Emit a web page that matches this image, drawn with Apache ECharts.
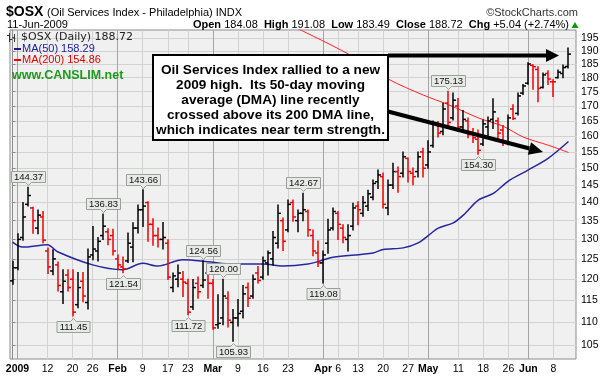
<!DOCTYPE html>
<html><head><meta charset="utf-8">
<script src="https://cdn.jsdelivr.net/npm/echarts@6/dist/echarts.min.js"></script>
<style>html,body{margin:0;padding:0;background:#fff}#c{width:603px;height:379px}</style>
</head><body><div id="c"></div>
<script>
// ---------- DATA ----------
const dates = [
 '2008-12-31',
 '2009-01-02','2009-01-05','2009-01-06','2009-01-07','2009-01-08','2009-01-09','2009-01-12','2009-01-13','2009-01-14','2009-01-15','2009-01-16','2009-01-20','2009-01-21','2009-01-22','2009-01-23','2009-01-26','2009-01-27','2009-01-28','2009-01-29','2009-01-30',
 '2009-02-02','2009-02-03','2009-02-04','2009-02-05','2009-02-06','2009-02-09','2009-02-10','2009-02-11','2009-02-12','2009-02-13','2009-02-17','2009-02-18','2009-02-19','2009-02-20','2009-02-23','2009-02-24','2009-02-25','2009-02-26','2009-02-27',
 '2009-03-02','2009-03-03','2009-03-04','2009-03-05','2009-03-06','2009-03-09','2009-03-10','2009-03-11','2009-03-12','2009-03-13','2009-03-16','2009-03-17','2009-03-18','2009-03-19','2009-03-20','2009-03-23','2009-03-24','2009-03-25','2009-03-26','2009-03-27','2009-03-30','2009-03-31',
 '2009-04-01','2009-04-02','2009-04-03','2009-04-06','2009-04-07','2009-04-08','2009-04-09','2009-04-13','2009-04-14','2009-04-15','2009-04-16','2009-04-17','2009-04-20','2009-04-21','2009-04-22','2009-04-23','2009-04-24','2009-04-27','2009-04-28','2009-04-29','2009-04-30',
 '2009-05-01','2009-05-04','2009-05-05','2009-05-06','2009-05-07','2009-05-08','2009-05-11','2009-05-12','2009-05-13','2009-05-14','2009-05-15','2009-05-18','2009-05-19','2009-05-20','2009-05-21','2009-05-22','2009-05-26','2009-05-27','2009-05-28','2009-05-29',
 '2009-06-01','2009-06-02','2009-06-03','2009-06-04','2009-06-05','2009-06-08','2009-06-09','2009-06-10','2009-06-11'
];
const open = [
 119.6,
 122.8,130.5,139.5,138.5,133.0,136.0,127.0,122.0,123.5,117.0,121.0,120.0,114.0,119.5,114.5,126.0,127.0,131.0,132.0,131.0,
 125.0,123.0,124.5,128.0,133.0,138.0,140.0,134.0,131.0,130.0,129.0,118.0,120.0,120.0,119.0,113.5,119.0,118.5,121.5,
 119.0,109.5,111.0,115.5,110.0,111.0,112.5,118.0,116.0,121.5,120.5,124.0,125.0,129.0,135.0,132.5,140.0,135.0,137.0,137.5,131.0,126.5,
 124.0,129.0,133.0,137.0,133.0,130.0,133.5,139.0,137.0,139.0,141.5,146.0,147.5,138.5,145.0,149.0,148.5,153.0,148.5,149.0,155.0,
 151.0,157.0,163.5,161.5,171.0,166.0,170.0,163.0,165.0,161.0,159.0,157.5,163.0,165.5,165.0,162.0,158.0,169.0,167.5,174.5,
 178.0,184.5,183.0,176.5,181.5,178.5,180.0,181.5,184.08
];
const high = [
 124.4,
 131.5,140.0,144.37,138.7,137.9,137.5,127.8,127.3,124.2,122.3,122.3,122.3,121.6,121.6,127.5,133.4,130.5,136.83,132.8,132.7,
 126.0,125.5,131.7,134.4,139.3,143.66,140.2,135.5,133.0,134.5,129.9,121.5,123.5,121.9,120.0,119.9,120.5,124.56,122.3,
 119.9,116.3,120.00,117.0,112.9,115.2,118.5,119.1,121.0,123.1,125.5,127.0,132.1,139.3,135.7,140.7,140.7,137.9,142.67,137.9,132.5,129.6,
 127.0,135.4,138.5,137.5,133.9,133.9,139.8,140.2,141.7,143.5,146.5,149.5,148.6,146.5,151.5,150.4,155.0,153.1,150.1,155.0,156.2,
 158.5,165.0,164.8,171.0,175.13,174.5,172.6,168.5,166.0,162.5,162.0,165.3,166.3,172.5,166.0,163.5,167.0,170.4,174.5,177.5,
 185.5,184.7,184.0,181.7,182.5,179.2,182.8,184.6,191.08
];
const low = [
 118.8,
 122.3,129.8,139.0,131.6,131.5,129.1,121.4,121.1,117.2,114.3,117.2,111.45,113.3,114.7,113.0,124.8,124.5,130.0,128.6,126.0,
 122.3,121.54,124.1,124.3,131.7,133.4,129.5,128.5,128.0,127.5,119.9,117.0,118.2,115.9,111.72,112.9,115.5,118.0,115.5,
 108.5,108.7,109.5,109.0,105.93,109.2,111.0,113.6,115.5,119.1,120.0,121.0,123.5,127.8,127.1,132.0,134.8,132.0,135.0,130.8,125.8,123.1,
 119.08,126.4,132.5,130.0,129.1,127.0,132.5,133.9,136.2,137.8,140.8,144.0,138.5,136.6,144.0,142.9,147.4,145.9,145.1,147.4,147.4,
 150.0,156.5,159.7,160.5,162.5,165.3,161.5,161.5,159.5,158.0,154.30,157.0,160.0,162.5,159.5,157.0,157.3,165.5,167.0,174.0,
 177.6,175.8,171.5,176.3,177.5,173.3,179.9,180.0,183.49
];
const close = [
 122.8,
 130.0,136.0,142.0,135.0,136.5,129.8,123.0,125.0,118.5,119.5,118.0,112.3,118.0,116.0,125.5,127.5,129.5,133.5,130.0,127.0,
 123.5,122.5,129.0,133.0,138.0,139.0,134.0,131.0,130.0,130.5,120.5,120.8,121.5,119.3,112.3,118.0,117.0,119.8,119.0,
 108.8,109.8,116.0,110.5,111.0,112.0,116.5,115.5,120.0,119.7,124.5,126.5,130.5,137.0,129.5,139.5,136.0,137.0,138.0,132.5,127.0,124.0,
 126.0,132.5,137.5,134.0,130.5,131.0,138.5,138.0,140.0,142.5,145.5,148.0,139.5,145.0,149.0,147.5,153.5,149.0,147.5,153.5,150.0,
 155.0,164.0,161.0,169.0,164.5,172.0,163.0,165.5,160.5,159.5,155.5,164.0,165.0,168.0,161.0,158.5,166.0,165.8,173.5,177.0,
 185.0,184.0,176.2,181.0,179.5,178.5,182.0,183.68,188.72
];
const ma50Dates = ['2008-12-31','2009-01-05','2009-01-12','2009-01-14','2009-01-26','2009-02-03','2009-02-09','2009-02-12','2009-02-20','2009-02-27','2009-03-06','2009-03-16','2009-03-20','2009-03-27','2009-04-01','2009-04-03','2009-04-16','2009-04-20','2009-04-24','2009-04-29','2009-05-01','2009-05-05','2009-05-08','2009-05-12','2009-05-15','2009-05-20','2009-05-26','2009-06-01','2009-06-05','2009-06-11'];
const ma50Values = [129.3,128.0,128.6,126.8,123.5,122.3,123.9,123.2,124.8,124.3,123.7,123.7,123.2,123.7,124.7,125.4,126.5,127.4,127.8,129.1,131.0,133.0,134.4,136.5,140.7,142.6,146.2,149.5,153.1,158.29];
const ma200Dates = ['2009-03-25','2009-04-08','2009-04-21','2009-04-30','2009-05-07','2009-05-15','2009-05-22','2009-05-29','2009-06-05','2009-06-11'];
const ma200Values = [198.6,188.8,179.5,173.8,170.5,166.0,163.2,159.7,157.1,154.86];
const xTickDates = ['2009-01-02','2009-01-12','2009-01-20','2009-01-26','2009-02-02','2009-02-09','2009-02-17','2009-02-23','2009-03-02','2009-03-09','2009-03-16','2009-03-23','2009-04-01','2009-04-06','2009-04-13','2009-04-20','2009-04-27','2009-05-01','2009-05-11','2009-05-18','2009-05-26','2009-06-01','2009-06-08'];
const xTickLabels = ['2009','12','20','26','Feb','9','17','23','Mar','9','16','23','Apr','6','13','20','27','May','11','18','26','Jun','8'];
const monthStartDates = ['2009-01-02','2009-02-02','2009-03-02','2009-04-01','2009-05-01','2009-06-01'];
const yTicks = [105,110,115,120,125,130,135,140,145,150,155,160,165,170,175,180,185,190,195];
const calloutDates = ['2009-01-06','2009-01-20','2009-01-28','2009-02-03','2009-02-09','2009-02-23','2009-02-26','2009-03-04','2009-03-06','2009-03-26','2009-04-01','2009-05-07','2009-05-15'];
const calloutValues = [144.37,111.45,136.83,121.54,143.66,111.72,124.56,120.00,105.93,142.67,119.08,175.13,154.30];
const calloutSides = ['top','bottom','top','bottom','top','bottom','top','top','bottom','top','bottom','top','bottom'];
const noteLines = ['Oil Services Index rallied to a new','2009 high.  Its 50-day moving','average (DMA) line recently','crossed above its 200 DMA line,','which indicates near term strength.'];

// ---------- BUILD ----------
const FONT = '"Liberation Sans", Arial, sans-serif';
const idx = d => dates.indexOf(d);
const last = dates.length - 1;
const ohlcData = dates.map((d, i) => [i, open[i], high[i], low[i], close[i], (i > 0 && close[i] < close[i - 1]) ? 1 : 0]);
const ma50Data = ma50Dates.map((d, k) => [idx(d), ma50Values[k]]);
const ma200Data = ma200Dates.map((d, k) => [idx(d), ma200Values[k]]);
const xTickIdx = xTickDates.map(idx);
const monthIdx = monthStartDates.map(idx);
const labelByIdx = {};
xTickIdx.forEach((v, k) => { labelByIdx[v] = xTickLabels[k]; });
const calloutData = calloutDates.map((d, k) => [idx(d), calloutValues[k], calloutSides[k] === 'top' ? 1 : 0]);

const mctx = document.createElement('canvas').getContext('2d');
const CALLOUT_FONT = '9.5px ' + FONT;
mctx.font = CALLOUT_FONT;

function renderOHLC(params, api) {
  const i = api.value(0);
  const pO = api.coord([i, api.value(1)]);
  const pH = api.coord([i, api.value(2)]);
  const pL = api.coord([i, api.value(3)]);
  const pC = api.coord([i, api.value(4)]);
  const color = api.value(5) ? '#f00000' : '#000000';
  const x = Math.round(pH[0]);
  const st = { stroke: color, lineWidth: 1.5 };
  return { type: 'group', children: [
    { type: 'line', shape: { x1: x, y1: pH[1] - 0.5, x2: x, y2: pL[1] + 0.5 }, style: st },
    { type: 'line', shape: { x1: x - 3, y1: pO[1], x2: x, y2: pO[1] }, style: st },
    { type: 'line', shape: { x1: x, y1: pC[1], x2: x + 3, y2: pC[1] }, style: st }
  ]};
}

function renderCallout(params, api) {
  const k = params.dataIndex;
  const p = api.coord([api.value(0), api.value(1)]);
  const text = calloutValues[k].toFixed(2);
  const w = Math.round(mctx.measureText(text).width + 5);
  const h = 11;
  const cx = Math.round(p[0]) + 0.5;
  const L = cx - w / 2, R = cx + w / 2;
  let pts, ty;
  if (api.value(2) === 1) {
    const tip = Math.round(p[1] - 2) + 0.5, b = tip - 3, t = b - h;
    pts = [[L, t], [R, t], [R, b], [cx + 3, b], [cx, tip], [cx - 3, b], [L, b]];
    ty = (t + b) / 2 + 0.5;
  } else {
    const tip = Math.round(p[1] + 2) + 0.5, t = tip + 3, b = t + h;
    pts = [[L, t], [cx - 3, t], [cx, tip], [cx + 3, t], [R, t], [R, b], [L, b]];
    ty = (t + b) / 2 + 0.5;
  }
  return { type: 'group', children: [
    { type: 'polygon', shape: { points: pts }, style: { fill: '#e7eae7', stroke: '#98a098', lineWidth: 1 } },
    { type: 'text', style: { text: text, x: cx, y: ty, align: 'center', verticalAlign: 'middle', font: CALLOUT_FONT, fill: '#111' } }
  ]};
}

function arrow(x1, y1, x2, y2, w, hl, hw) {
  const dx = x2 - x1, dy = y2 - y1, len = Math.hypot(dx, dy), ux = dx / len, uy = dy / len;
  const bx = x2 - ux * hl, by = y2 - uy * hl;
  return [
    { type: 'line', silent: true, z: 102, shape: { x1: x1, y1: y1, x2: bx, y2: by }, style: { stroke: '#000', lineWidth: w } },
    { type: 'polygon', silent: true, z: 102, shape: { points: [[x2, y2], [bx - uy * hw, by + ux * hw], [bx + uy * hw, by - ux * hw]] }, style: { fill: '#000' } }
  ];
}

const chg = close[last] - close[last - 1];
const pct = chg / close[last - 1] * 100;
const sgn = v => (v >= 0 ? '+' : '') + v.toFixed(2);

const txt = (x, y, text, font, fill, align, extra) => Object.assign({
  type: 'text', x: x, y: y, silent: true, z: 110,
  style: Object.assign({ text: text, font: font, fill: fill || '#000', align: align || 'left', verticalAlign: 'middle' }, extra || {})
});

const graphic = [
  txt(6, 12.5, '$OSX', 'bold 14px ' + FONT, '#000'),
  txt(47, 12.5, '(Oil Services Index - Philadelphia) INDX', '11px ' + FONT, '#000'),
  txt(578, 12.5, '\u00A9StockCharts.com', '11px ' + FONT, '#333', 'right'),
  txt(7, 24.5, dates[last].slice(8) + '-Jun-' + dates[last].slice(0, 4), '11px ' + FONT, '#000'),
  txt(569, 24.5,
    '{b|Open} ' + open[last].toFixed(2) + '  {b|High} ' + high[last].toFixed(2) + '  {b|Low} ' + low[last].toFixed(2) +
    '  {b|Close} ' + close[last].toFixed(2) + '  {b|Chg} ' + sgn(chg) + ' (' + sgn(pct) + '%)',
    '11px ' + FONT, '#000', 'right', { rich: { b: { font: 'bold 11px ' + FONT, fill: '#000' } } }),
  { type: 'polygon', silent: true, z: 110, shape: { points: [[571.5, 28], [578.5, 28], [575, 22]] }, style: { fill: '#00a000' } },
  // legend
  { type: 'line', silent: true, z: 110, shape: { x1: 9.5, y1: 33, x2: 9.5, y2: 42 }, style: { stroke: '#333', lineWidth: 1 } },
  { type: 'line', silent: true, z: 110, shape: { x1: 7, y1: 35.5, x2: 9.5, y2: 35.5 }, style: { stroke: '#333', lineWidth: 1 } },
  { type: 'line', silent: true, z: 110, shape: { x1: 9.5, y1: 39.5, x2: 12, y2: 39.5 }, style: { stroke: '#333', lineWidth: 1 } },
  { type: 'line', silent: true, z: 110, shape: { x1: 14.5, y1: 34, x2: 14.5, y2: 42 }, style: { stroke: '#333', lineWidth: 1 } },
  { type: 'line', silent: true, z: 110, shape: { x1: 12.5, y1: 37.5, x2: 14.5, y2: 37.5 }, style: { stroke: '#333', lineWidth: 1 } },
  txt(21, 37.5, '$OSX (Daily) ' + close[last].toFixed(2), '11px "DejaVu Sans", sans-serif', '#222'),
  { type: 'line', silent: true, z: 110, shape: { x1: 14, y1: 49, x2: 21, y2: 49 }, style: { stroke: '#1c1c9a', lineWidth: 2 } },
  txt(22, 49, 'MA(50) ' + ma50Values[ma50Values.length - 1].toFixed(2), '11px ' + FONT, '#1c1c9a'),
  { type: 'line', silent: true, z: 110, shape: { x1: 14, y1: 60, x2: 21, y2: 60 }, style: { stroke: '#f00000', lineWidth: 2 } },
  txt(22, 60, 'MA(200) ' + ma200Values[ma200Values.length - 1].toFixed(2), '11px ' + FONT, '#e00000'),
  txt(12, 76, 'www.CANSLIM.net', 'bold 12.5px ' + FONT, '#1e9a1e'),
  // note box
  { type: 'rect', silent: true, z: 100, shape: { x: 153, y: 55, width: 235, height: 85 }, style: { fill: '#fff', stroke: '#000', lineWidth: 2 } },
  txt(270.5, 100.5, noteLines.join('\n'), 'bold 13.6px ' + FONT, '#000', 'center', { lineHeight: 15 })
].concat(arrow(388, 55.5, 559, 55.5, 4, 13, 6.5), arrow(388, 111.5, 543, 152, 4, 14, 6.5));

const option = {
  animation: false,
  backgroundColor: '#ffffff',
  grid: { left: 10, right: 27, top: 30, bottom: 20, show: true, backgroundColor: '#f0f0f0', borderColor: '#8c8c8c', borderWidth: 1 },
  xAxis: [
    {
      type: 'value', min: -0.5, max: dates.length + 0.5, position: 'bottom',
      axisLine: { show: false },
      axisTick: { show: false, customValues: xTickIdx },
      splitLine: { show: true, lineStyle: { color: '#d2d2d2', width: 1 } },
      axisLabel: {
        customValues: xTickIdx, margin: 5, color: '#000', fontFamily: FONT, fontSize: 10.5,
        formatter: v => { const s = labelByIdx[Math.round(v)] || ''; return monthIdx.indexOf(Math.round(v)) >= 0 ? '{b|' + s + '}' : s; },
        rich: { b: { fontWeight: 'bold', fontFamily: FONT, fontSize: 10.5, color: '#000' } }
      }
    },
    {
      type: 'value', min: -0.5, max: dates.length + 0.5, position: 'bottom',
      axisLine: { show: false }, axisLabel: { show: false, customValues: monthIdx },
      axisTick: { show: false, customValues: monthIdx },
      splitLine: { show: true, lineStyle: { color: '#a4a4a4', width: 1 } }
    }
  ],
  yAxis: {
    type: 'log', logBase: 10, min: 102.2, max: 198.1, position: 'right',
    axisLine: { show: true, lineStyle: { color: '#8c8c8c' } },
    axisTick: { show: true, length: 3, customValues: yTicks, lineStyle: { color: '#8c8c8c' } },
    axisLabel: { customValues: yTicks, margin: 5, color: '#000', fontFamily: FONT, fontSize: 10.5, formatter: v => String(Math.round(v)) },
    splitLine: { show: true, lineStyle: { color: '#d2d2d2', width: 1 } },
    minorTick: { show: false }, minorSplitLine: { show: false }
  },
  series: [
    { type: 'line', name: 'MA(50)', data: ma50Data, xAxisIndex: 0, symbol: 'none', smooth: 0.3, lineStyle: { color: '#2626a0', width: 1.5 }, z: 3 },
    { type: 'line', name: 'MA(200)', data: ma200Data, xAxisIndex: 0, symbol: 'none', smooth: 0.3, lineStyle: { color: '#ff2020', width: 1 }, z: 3 },
    { type: 'custom', name: '$OSX', data: ohlcData, xAxisIndex: 0, renderItem: renderOHLC, encode: { x: 0, y: [1, 2, 3, 4] }, z: 4 },
    { type: 'custom', name: 'callouts', data: calloutData, xAxisIndex: 0, renderItem: renderCallout, encode: { x: 0, y: 1 }, z: 6 }
  ],
  graphic: graphic
};
const chart = echarts.init(document.getElementById('c'));
chart.setOption(option);
</script>
</body></html>
